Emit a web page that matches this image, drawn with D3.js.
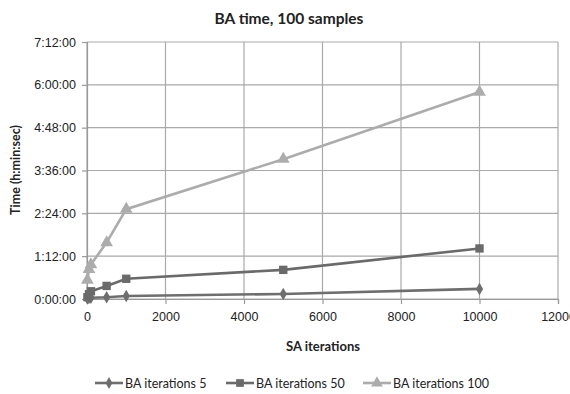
<!DOCTYPE html>
<html>
<head>
<meta charset="utf-8">
<script src="https://cdn.jsdelivr.net/npm/d3@7"></script>
<style>
  body { margin: 0; background: #fff; }
  svg { font-family: Lato, "Open Sans", sans-serif; }
</style>
</head>
<body>
<div id="content"></div>
<script>
// SA iterations (x) and BA time in minutes (y) per series
const saIterations = [10, 50, 100, 500, 1000, 5000, 10000];
const ba5 = [1, 1.5, 2, 3, 5, 8.5, 17];
const ba50 = [3, 8, 13, 22, 34, 49, 85];
const ba100 = [32, 50, 58, 95, 151, 235, 348];

const seriesNames = ["BA iterations 5", "BA iterations 50", "BA iterations 100"];
const seriesValues = [ba5, ba50, ba100];
const seriesColors = ["#6e6e6e", "#6a6a6a", "#acacac"];
const seriesSymbols = [d3.symbolDiamond, d3.symbolSquare, d3.symbolTriangle];

const xTicks = [0, 2000, 4000, 6000, 8000, 10000, 12000];
const yTicks = [0, 72, 144, 216, 288, 360, 432];
const yTickLabels = ["0:00:00", "1:12:00", "2:24:00", "3:36:00", "4:48:00", "6:00:00", "7:12:00"];

const width = 570, height = 394;
const margin = { left: 87, right: 12, top: 42, bottom: 95 };

const svg = d3.select("#content").append("svg")
    .attr("width", width).attr("height", height);

const x = d3.scaleLinear().domain([0, 12000]).range([margin.left, width - margin.right]);
const y = d3.scaleLinear().domain([0, 432]).range([height - margin.bottom, margin.top]);

// gridlines
svg.append("g").selectAll("line").data(yTicks).enter().append("line")
    .attr("x1", x(0)).attr("x2", x(12000))
    .attr("y1", d => y(d)).attr("y2", d => y(d))
    .attr("stroke", "#a9a9a9").attr("stroke-width", 1.2);
svg.append("g").selectAll("line").data(xTicks).enter().append("line")
    .attr("x1", d => x(d)).attr("x2", d => x(d))
    .attr("y1", y(0)).attr("y2", y(432))
    .attr("stroke", "#a9a9a9").attr("stroke-width", 1.2);

// axes
const xAxis = svg.append("g")
    .attr("transform", `translate(0,${y(0)})`)
    .call(d3.axisBottom(x).tickValues(xTicks).tickSize(5).tickPadding(8).tickFormat(d3.format("d")));
const yAxis = svg.append("g")
    .attr("transform", `translate(${x(0)},0)`)
    .call(d3.axisLeft(y).tickValues(yTicks).tickSize(5).tickPadding(6).tickFormat((d, i) => yTickLabels[i]));
[xAxis, yAxis].forEach(a => {
    a.select(".domain").attr("stroke", "#999").attr("stroke-width", 1.2);
    a.selectAll(".tick line").attr("stroke", "#999").attr("stroke-width", 1.2);
    a.selectAll("text").attr("fill", "#222").style("font-size", "12.5px");
});

// lines and markers
const line = d3.line().x((d, i) => x(saIterations[i])).y(d => y(d));
seriesValues.forEach((vals, k) => {
    svg.append("path")
        .datum(vals)
        .attr("d", line)
        .attr("fill", "none")
        .attr("stroke", seriesColors[k])
        .attr("stroke-width", 2.6);
    svg.append("g").selectAll("path").data(vals).enter().append("path")
        .attr("d", d3.symbol().type(seriesSymbols[k]).size(k === 0 ? 45 : 70))
        .attr("transform", (d, i) => `translate(${x(saIterations[i])},${y(d)})`)
        .attr("fill", seriesColors[k]);
});

// titles
svg.append("text")
    .attr("x", 289).attr("y", 24)
    .attr("text-anchor", "middle")
    .style("font-size", "15.5px").style("font-weight", "bold")
    .attr("fill", "#222")
    .text("BA time, 100 samples");
svg.append("text")
    .attr("x", 323).attr("y", 351)
    .attr("text-anchor", "middle")
    .style("font-size", "13px").style("font-weight", "bold")
    .attr("fill", "#222")
    .text("SA iterations");
svg.append("text")
    .attr("transform", "translate(20,170) rotate(-90)")
    .attr("text-anchor", "middle")
    .style("font-size", "12.5px").style("font-weight", "bold")
    .attr("fill", "#222")
    .text("Time (h:min:sec)");

// legend
const legendX = [95, 226, 363];
const legend = svg.append("g").selectAll("g").data(seriesNames).enter().append("g")
    .attr("transform", (d, i) => `translate(${legendX[i]},383)`);
legend.append("line")
    .attr("x1", 0).attr("x2", 28).attr("y1", 0).attr("y2", 0)
    .attr("stroke", (d, i) => seriesColors[i]).attr("stroke-width", 2.6);
legend.append("path")
    .attr("d", (d, i) => d3.symbol().type(seriesSymbols[i]).size(i === 0 ? 40 : 60)())
    .attr("transform", "translate(14,0)")
    .attr("fill", (d, i) => seriesColors[i]);
legend.append("text")
    .attr("x", 30).attr("y", 4.5)
    .style("font-size", "12.5px")
    .attr("fill", "#222")
    .text(d => d);
</script>
</body>
</html>
